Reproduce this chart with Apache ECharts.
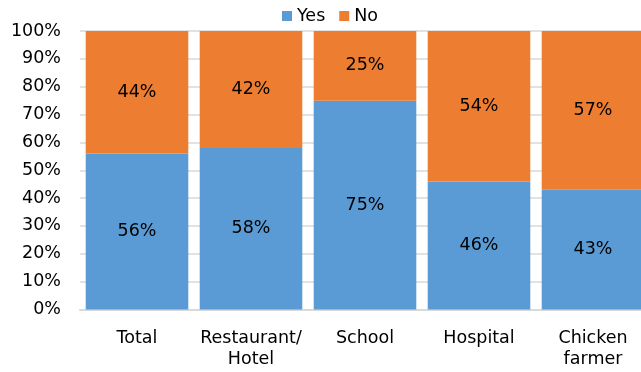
<!DOCTYPE html>
<html><head><meta charset="utf-8">
<script src="https://cdn.jsdelivr.net/npm/echarts@6/dist/echarts.min.js"></script>
<style>html,body{margin:0;padding:0;background:#fff}#c{width:641px;height:372px}</style>
</head><body><div id="c"></div>
<script>
const categories = ['Total', 'Restaurant/\nHotel', 'School', 'Hospital', 'Chicken\nfarmer'];
const yesValues = [56, 58, 75, 46, 43];
const noValues = [44, 42, 25, 54, 57];
const yTicks = [0, 10, 20, 30, 40, 50, 60, 70, 80, 90, 100];
const FONT = 'DejaVu Sans';
const chart = echarts.init(document.getElementById('c'), null, {renderer: 'canvas'});
const labelStyle = {show: true, position: 'inside', formatter: p => Math.round(p.value) + '%', color: '#000', fontFamily: FONT, fontSize: 17.5};
chart.setOption({
  animation: false,
  textStyle: {fontFamily: FONT},
  legend: {
    top: 2, left: 277, itemWidth: 10, itemHeight: 10, itemGap: 14,
    icon: 'rect', padding: 5,
    textStyle: {fontFamily: FONT, fontSize: 17.5, color: '#000'},
    data: ['Yes', 'No']
  },
  grid: {left: 80, top: 31, width: 570, bottom: 62.5, containLabel: false, outerBoundsMode: 'none'},
  xAxis: {
    type: 'category', data: categories,
    axisLine: {lineStyle: {color: '#d9d9d9', width: 2}},
    axisTick: {show: false},
    axisLabel: {color: '#000', fontFamily: FONT, fontSize: 17.5, margin: 18, lineHeight: 21.5, interval: 0}
  },
  yAxis: {
    type: 'value', min: 0, max: 100, interval: 10,
    axisLine: {show: false}, axisTick: {show: false},
    axisLabel: {color: '#000', fontFamily: FONT, fontSize: 17.5, margin: 19,
      formatter: v => yTicks.includes(v) ? v + '%' : ''},
    splitLine: {lineStyle: {color: '#d9d9d9', width: 1.5}}
  },
  series: [
    {name: 'Yes', type: 'bar', stack: 's', data: yesValues, barCategoryGap: '10%',
     itemStyle: {color: '#5b9bd5'}, label: labelStyle},
    {name: 'No', type: 'bar', stack: 's', data: noValues, barCategoryGap: '10%',
     itemStyle: {color: '#ed7d31'}, label: labelStyle}
  ]
});
</script></body></html>
